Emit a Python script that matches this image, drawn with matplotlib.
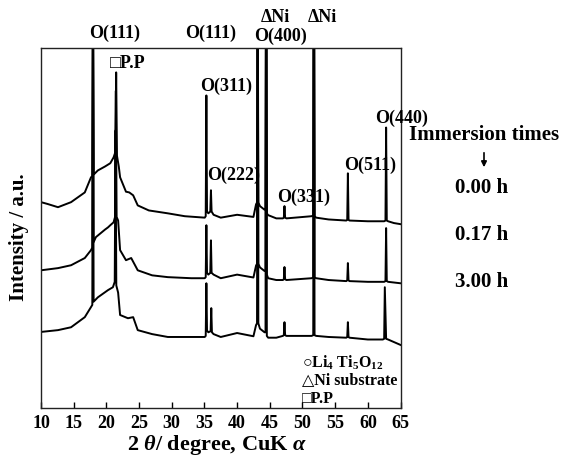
import matplotlib
matplotlib.use("Agg")
import matplotlib.pyplot as plt

plt.rcParams["font.family"] = ["Liberation Serif", "DejaVu Serif"]
plt.rcParams["font.weight"] = "bold"
plt.rcParams["mathtext.fontset"] = "custom"
plt.rcParams["mathtext.rm"] = "Liberation Serif:bold"
plt.rcParams["mathtext.bf"] = "Liberation Serif:bold"
plt.rcParams["mathtext.it"] = "Liberation Serif:italic"

# XRD patterns (2theta in degree, intensity in a.u., curves already offset)
tt_000 = [10.0, 11.0, 12.6, 14.6, 16.7, 17.65, 17.85, 17.95, 18.07, 18.2, 18.7, 19.8,
          20.6, 21.1, 21.38, 21.5, 21.62, 21.9, 22.1, 23.0, 23.5, 24.1, 24.8, 26.5,
          29.4, 32.0, 35.05, 35.2, 35.3, 35.4, 35.6, 35.9, 36.0, 36.1, 36.4, 37.5,
          40.0, 42.5, 42.9, 43.05, 43.15, 43.25, 43.5, 44.2, 44.35, 44.45, 44.55, 44.75,
          46.0, 47.0, 47.15, 47.25, 47.35, 47.55, 51.4, 51.65, 51.75, 51.85, 52.1, 54.0,
          56.7, 56.85, 56.95, 57.05, 57.2, 60.0, 62.5, 62.7, 62.8, 62.9, 63.1, 64.0, 65.0]
int_000 = [57.1, 56.6, 55.7, 57.1, 59.8, 64.0, 64.3, 125.0, 64.8, 65.0, 65.9, 67.0,
           67.9, 69.5, 71.0, 93.1, 70.0, 67.0, 64.0, 60.0, 59.8, 59.0, 56.2, 54.8,
           54.0, 53.2, 52.8, 53.2, 86.7, 54.5, 54.0, 54.5, 60.4, 54.5, 53.6, 52.8,
           53.6, 53.0, 56.5, 57.0, 130.0, 57.0, 56.0, 55.0, 55.0, 150.0, 54.0, 53.5,
           52.6, 52.6, 52.8, 56.0, 52.8, 52.6, 53.2, 53.4, 150.0, 53.2, 52.8, 52.3,
           52.0, 52.2, 65.1, 52.2, 52.0, 51.8, 51.8, 52.0, 77.8, 52.0, 51.8, 51.3, 51.0]

tt_017 = [10.0, 12.6, 14.6, 16.7, 17.65, 17.85, 17.95, 18.05, 18.4, 19.8, 20.25, 20.6,
          21.1, 21.33, 21.45, 21.57, 21.8, 22.1, 23.0, 23.8, 24.8, 27.0, 29.4, 33.0,
          35.05, 35.2, 35.3, 35.4, 35.6, 35.9, 36.0, 36.1, 36.4, 37.5, 40.0, 42.5, 42.9,
          43.05, 43.15, 43.25, 43.5, 44.2, 44.35, 44.45, 44.55, 44.75, 46.0, 47.0, 47.15,
          47.25, 47.35, 47.55, 51.4, 51.65, 51.75, 51.85, 52.1, 54.0, 56.7, 56.85, 56.95,
          57.05, 57.2, 60.0, 62.5, 62.7, 62.8, 62.9, 63.1, 65.0]
int_017 = [38.2, 38.8, 39.6, 41.6, 43.8, 44.5, 120.0, 46.0, 47.4, 49.5, 50.1, 50.7,
           51.5, 53.0, 88.0, 53.0, 52.0, 43.8, 41.0, 41.6, 38.2, 36.8, 36.3, 36.0,
           36.0, 36.3, 50.7, 37.5, 37.0, 37.5, 46.5, 37.5, 37.0, 36.0, 37.0, 36.2, 39.5,
           40.0, 130.0, 40.0, 39.0, 38.0, 38.0, 150.0, 37.0, 36.0, 35.5, 35.5, 35.7,
           39.1, 35.7, 35.5, 36.0, 36.2, 150.0, 36.2, 36.0, 35.5, 35.2, 35.4, 40.2,
           35.4, 35.2, 35.0, 35.0, 35.2, 49.9, 35.2, 35.0, 34.6]

tt_300 = [10.0, 12.6, 14.6, 16.7, 17.65, 17.85, 17.95, 18.05, 18.7, 20.25, 21.0, 21.28,
          21.4, 21.52, 21.8, 22.1, 23.3, 24.1, 24.8, 27.0, 29.4, 33.0, 35.05, 35.2, 35.3,
          35.4, 35.6, 35.95, 36.05, 36.15, 36.4, 37.5, 40.0, 42.5, 42.9, 43.05, 43.15,
          43.25, 43.5, 44.2, 44.35, 44.45, 44.55, 44.75, 46.0, 47.0, 47.15, 47.25, 47.35,
          47.55, 51.4, 51.65, 51.75, 51.85, 52.1, 54.0, 56.7, 56.85, 56.95, 57.05, 57.2,
          60.0, 62.3, 62.5, 62.6, 62.8, 63.1, 65.0]
int_300 = [21.1, 21.6, 22.4, 25.2, 28.0, 28.6, 110.0, 29.5, 30.7, 32.7, 33.5, 35.0,
           77.0, 34.0, 32.0, 25.8, 24.9, 25.2, 21.6, 20.5, 19.7, 19.7, 19.7, 20.0, 34.6,
           21.5, 21.0, 21.3, 27.7, 21.0, 20.5, 19.7, 20.8, 19.9, 23.0, 23.5, 130.0,
           23.5, 22.0, 21.0, 21.0, 150.0, 20.0, 19.5, 19.5, 20.0, 20.2, 23.8, 20.2,
           20.0, 20.0, 20.2, 150.0, 20.2, 20.0, 19.7, 19.5, 19.7, 23.8, 19.7, 19.5,
           19.0, 19.0, 19.2, 33.5, 19.2, 19.0, 17.5]

times = ["0.00 h", "0.17 h", "3.00 h"]
x_ticks = [10, 15, 20, 25, 30, 35, 40, 45, 50, 55, 60, 65]

# peak labels: (text, 2theta, height)
peak_labels = [
    ("O(111)", 21.3, 103.9), ("O(111)", 35.9, 103.9), ("ΔNi", 45.8, 108.4),
    ("ΔNi", 53.0, 108.4), ("O(400)", 46.6, 103.0), ("□P.P", 23.3, 95.6),
    ("O(311)", 38.3, 89.2), ("O(222)", 39.4, 64.5), ("O(331)", 50.2, 58.4),
    ("O(511)", 60.3, 67.3), ("O(440)", 65.2, 80.3),
]

W, H = 562, 461
fig = plt.figure(figsize=(W / 100, H / 100), dpi=100)
ax = fig.add_axes([41 / W, 1 - 408 / H, 359.5 / W, 360.5 / H])

for tt, inten in [(tt_000, int_000), (tt_017, int_017), (tt_300, int_300)]:
    ax.plot(tt, inten, color="black", lw=1.4)

ax.set_xlim(10, 65)
ax.set_ylim(0, 100)
ax.set_xticks(x_ticks)
ax.set_yticks([])
ax.tick_params(axis="x", direction="in", length=4, width=1, labelsize=13, pad=5)
for s in ax.spines.values():
    s.set_linewidth(1.0)
    s.set_color("#222222")

for txt, x, y in peak_labels:
    ax.text(x, y, txt, fontsize=13, ha="center", va="center", clip_on=False)

# phase legend inside the frame
ax.text(49.9, 12.5, "○Li$_4$ Ti$_5$O$_{12}$", fontsize=11.5, va="center")
ax.text(49.9, 7.8, "△Ni substrate", fontsize=11.5, va="center")
ax.text(49.9, 2.4, "□P.P", fontsize=11.5, va="center")

fig.text(19 / W, 1 - 237 / H, "Intensity / a.u.", rotation=90, fontsize=15,
         ha="center", va="center")
fig.text(217 / W, 1 - 445 / H, r"2 $\theta$/ degree, CuK $\alpha$", fontsize=16,
         ha="center", va="center")

fig.text(484 / W, 1 - 135 / H, "Immersion times", fontsize=15, ha="center", va="center")
ax.annotate("", xy=(484 / W, 1 - 170 / H), xytext=(484 / W, 1 - 150 / H),
            xycoords="figure fraction", textcoords="figure fraction",
            arrowprops=dict(arrowstyle="-|>", lw=1.2, color="black", mutation_scale=8))
for t, yp in zip(times, [188, 235, 282]):
    fig.text(482 / W, 1 - yp / H, t, fontsize=15, ha="center", va="center")

fig.savefig("out.png", dpi=100)
